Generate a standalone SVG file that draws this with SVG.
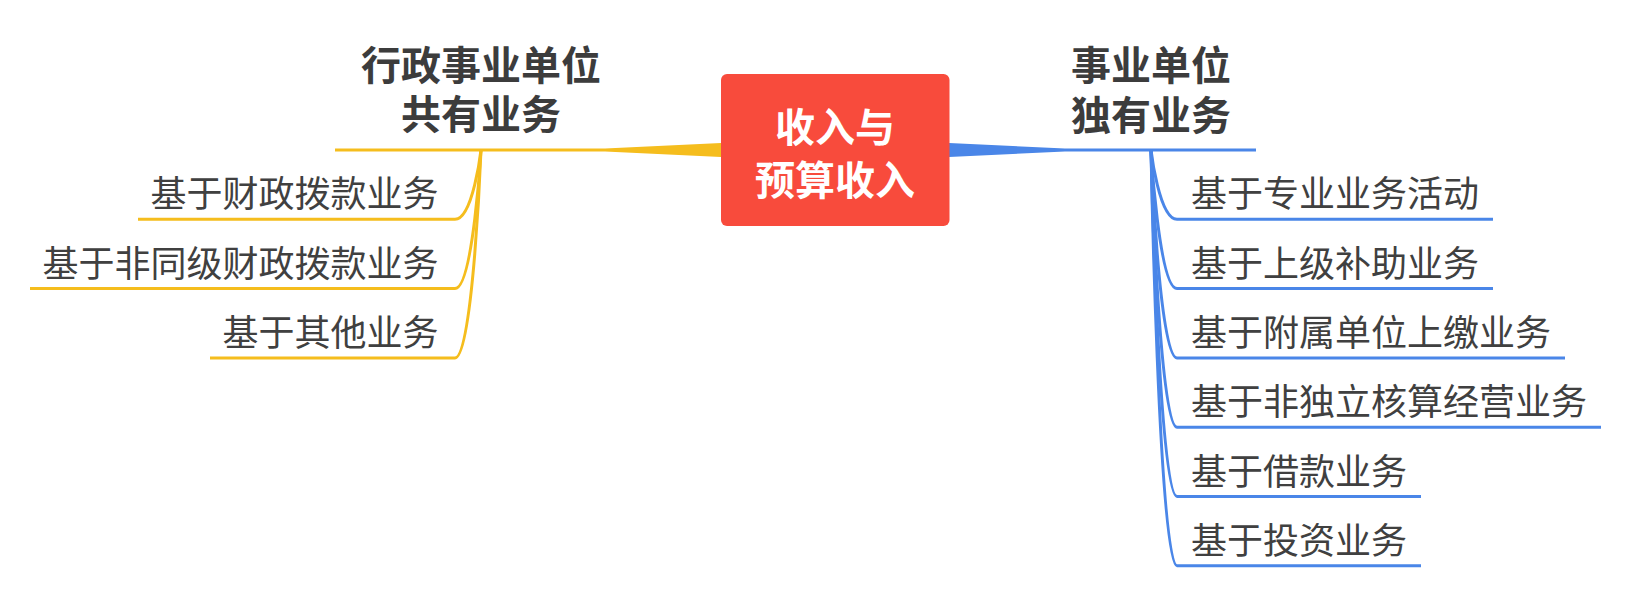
<svg xmlns="http://www.w3.org/2000/svg" width="1646" height="609" viewBox="0 0 1646 609">
<style>
.t{font-family:"Noto Sans CJK SC","Noto Sans",sans-serif;font-size:36px;fill:#404040}
.h{font-family:"Noto Sans CJK SC","Noto Sans",sans-serif;font-size:40px;font-weight:700;fill:#3c3c3c}
.c{font-family:"Noto Sans CJK SC","Noto Sans",sans-serif;font-size:40px;font-weight:700;fill:#ffffff}
.y{fill:none;stroke:#F5BD1D;stroke-width:3}
.b{fill:none;stroke:#4A86E8;stroke-width:3}
</style>
<rect width="1646" height="609" fill="#ffffff"/>
<g id="connectors">
<path d="M335 148.5 L605 148.5 L721 143 L721 157 L605 151.5 L335 151.5 Z" fill="#F5BD1D"/>
<path d="M1256 148.5 L1065 148.5 L949 143 L949 157 L1065 151.5 L1256 151.5 Z" fill="#4A86E8"/>
<path class="y" d="M481 150 C481 150 473 219.3 455 219.3 L138 219.3"/>
<path class="y" d="M481 150 C481 150 473 288.6 455 288.6 L30 288.6"/>
<path class="y" d="M481 150 C481 150 473 357.9 455 357.9 L210 357.9"/>
<path class="b" d="M1151 150 C1151 150 1159 219.3 1177 219.3 L1493 219.3"/>
<path class="b" d="M1151 150 C1151 150 1159 288.6 1177 288.6 L1493 288.6"/>
<path class="b" d="M1151 150 C1151 150 1159 357.9 1177 357.9 L1565 357.9"/>
<path class="b" d="M1151 150 C1151 150 1159 427.2 1177 427.2 L1601 427.2"/>
<path class="b" d="M1151 150 C1151 150 1159 496.5 1177 496.5 L1421 496.5"/>
<path class="b" d="M1151 150 C1151 150 1159 565.8 1177 565.8 L1421 565.8"/>
</g>
<g id="root">
<rect x="721" y="74" width="228.5" height="152" rx="6" fill="#F84B3C"/>
<text class="c" x="835" y="142" text-anchor="middle">收入与</text>
<text class="c" x="835" y="195" text-anchor="middle">预算收入</text>
</g>
<g id="left-main">
<text class="h" x="481" y="79.5" text-anchor="middle">行政事业单位</text>
<text class="h" x="481" y="129" text-anchor="middle">共有业务</text>
</g>
<g id="right-main">
<text class="h" x="1151" y="80" text-anchor="middle">事业单位</text>
<text class="h" x="1151" y="130" text-anchor="middle">独有业务</text>
</g>
<g id="l1"><text class="t" x="438.5" y="207.3" text-anchor="end">基于财政拨款业务</text></g>
<g id="l2"><text class="t" x="438.5" y="276.6" text-anchor="end">基于非同级财政拨款业务</text></g>
<g id="l3"><text class="t" x="438.5" y="345.9" text-anchor="end">基于其他业务</text></g>
<g id="r1"><text class="t" x="1191" y="207.3">基于专业业务活动</text></g>
<g id="r2"><text class="t" x="1191" y="276.6">基于上级补助业务</text></g>
<g id="r3"><text class="t" x="1191" y="345.9">基于附属单位上缴业务</text></g>
<g id="r4"><text class="t" x="1191" y="415.2">基于非独立核算经营业务</text></g>
<g id="r5"><text class="t" x="1191" y="484.5">基于借款业务</text></g>
<g id="r6"><text class="t" x="1191" y="553.8">基于投资业务</text></g>
</svg>
